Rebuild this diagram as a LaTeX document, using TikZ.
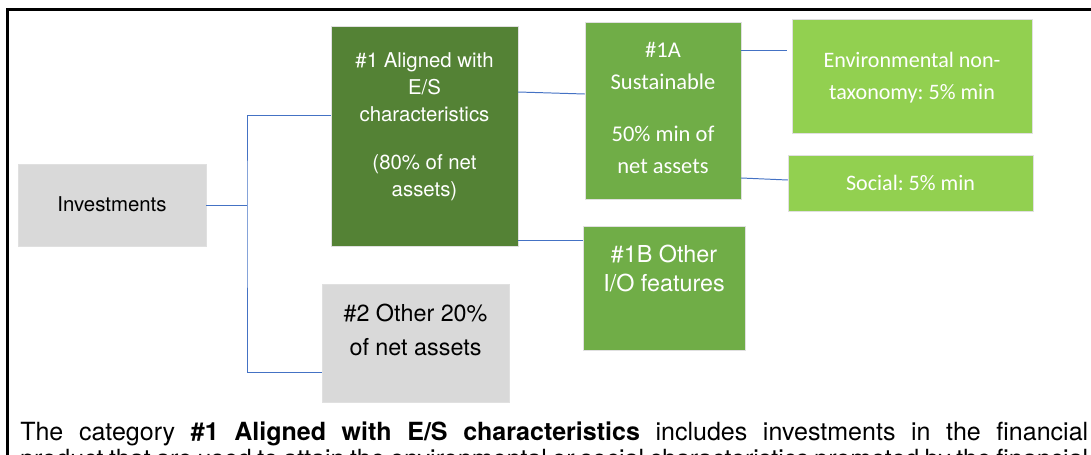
\documentclass[tikz,border=0pt]{standalone}
\usepackage{fontspec}
\setmainfont{TeX Gyre Heros}
\newfontfamily\calibrifont{Carlito}
\usetikzlibrary{positioning}
\frenchspacing

\definecolor{boxgrey}{HTML}{D9D9D9}
\definecolor{darkgreen}{HTML}{548235}
\definecolor{midgreen}{HTML}{70AD47}
\definecolor{lightgreen}{HTML}{92D050}
\definecolor{linkblue}{HTML}{4472C4}

\newlength\unitpx
\setlength\unitpx{0.025cm}

\begin{document}
\begin{tikzpicture}[
        x=0.025cm, y=-0.025cm,
        box/.style={rectangle, inner sep=0pt, draw=white!88!black, line width=0.3pt},
        greybox/.style={box, fill=boxgrey},
        darkbox/.style={box, fill=darkgreen},
        midbox/.style={box, fill=midgreen},
        lightbox/.style={box, fill=lightgreen},
        txt/.style={align=center, inner sep=0pt},
        link/.style={draw=linkblue, line width=0.7pt}
    ]
        \useasboundingbox (0,0) rectangle (1091,454);
        \draw[line width=3\unitpx] (7,470) -- (7,9) -- (1100,9);

        % boxes
        \node[greybox, minimum width=188\unitpx, minimum height=82\unitpx] (invest) at (112,205) {};
        \node[darkbox, minimum width=187\unitpx, minimum height=220\unitpx] (aligned) at (424.5,136) {};
        \node[greybox, minimum width=187\unitpx, minimum height=118\unitpx] (other) at (415.5,343) {};
        \node[midbox, minimum width=156\unitpx, minimum height=177\unitpx] (sustain) at (663,110.5) {};
        \node[midbox, minimum width=162\unitpx, minimum height=124\unitpx] (otherio) at (664,288) {};
        \node[lightbox, minimum width=240\unitpx, minimum height=114\unitpx] (envnt) at (912,76) {};
        \node[lightbox, minimum width=245\unitpx, minimum height=56\unitpx] (social) at (910.5,183) {};

        % texts
        \node[txt, font=\fontsize{14.5}{19.2}\selectfont] (investtxt) at (112,204.5) {Investments};
        \node[txt, text=white, font=\fontsize{14.5}{19.2}\selectfont] (alignedtxt) at (424.5,127)
            {\#1 Aligned with\\E/S\\characteristics\\[15pt](80\% of net\\assets)};
        \node[txt, font=\fontsize{16.6}{24.2}\selectfont] (othertxt) at (415.5,330)
            {\#2 Other 20\%\\of net assets};
        \node[txt, text=white, font=\calibrifont\fontsize{16}{22.6}\selectfont] (sustaintxt) at (663,108)
            {\#1A\\Sustainable\\[15pt]50\% min of\\net assets};
        \node[txt, text=white, font=\fontsize{16.6}{21.3}\selectfont] (otheriotxt) at (664,268.5)
            {\#1B Other\\I/O features};
        \node[txt, text=white, font=\calibrifont\fontsize{15.7}{22.8}\selectfont] (envnttxt) at (912,77.5)
            {Environmental non-\\taxonomy: 5\% min};
        \node[txt, text=white, font=\calibrifont\fontsize{15.7}{22.8}\selectfont] (socialtxt) at (910.5,182.5)
            {Social: 5\% min};

        % connectors
        \coordinate (split) at (247,205);
        \draw[link] (invest.east) -- (split);
        \draw[link] ([yshift=21\unitpx]aligned.west) -| (split) |- ([yshift=-29\unitpx]other.west);
        \draw[link] ([yshift=44\unitpx]aligned.east) -- ([yshift=16.5\unitpx]sustain.west);
        \draw[link] ([yshift=-104\unitpx]aligned.east) -- ([yshift=48\unitpx]otherio.west);
        \draw[link] ([yshift=60.5\unitpx]sustain.east) -- ([xshift=-5\unitpx, yshift=26\unitpx]envnt.west);
        \draw[link] ([yshift=-67.5\unitpx]sustain.east) -- ([yshift=3\unitpx]social.west);

        % caption
        \node[anchor=north west, inner sep=0pt, text width=1068\unitpx, align=justify,
              font=\fontsize{17.8}{18.8}\selectfont] (note) at (20,421.8)
            {The category \textbf{\#1 Aligned with E/S characteristics} includes investments in the financial\linebreak
             product that are used to attain the environmental or social characteristics promoted by the
             financial product.};
    \end{tikzpicture}
\end{document}
